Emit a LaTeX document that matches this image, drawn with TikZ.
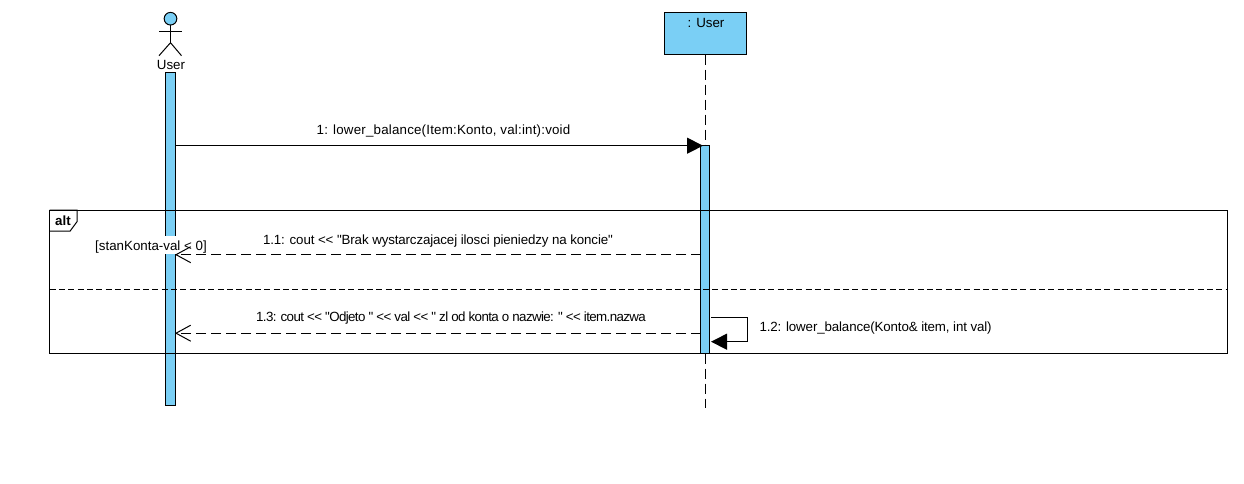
\documentclass[tikz,border=0pt]{standalone}
\usepackage{fontspec}
\newfontfamily\diagfont{Liberation Sans}
\usetikzlibrary{arrows.meta, positioning}
\definecolor{lifeblue}{HTML}{7ACFF5}

\begin{document}
\begin{tikzpicture}[
    x=0.75pt, y=-0.75pt, line width=0.75pt,
    barbox/.style={draw, fill=lifeblue, minimum width=7.5pt, inner sep=0pt, outer sep=0pt, anchor=north},
    headbox/.style={draw, fill=lifeblue, minimum width=62pt, minimum height=31.5pt, inner sep=0pt, outer sep=0pt},
    msglabel/.style={font=\diagfont\fontsize{10pt}{12pt}\selectfont, inner sep=0pt},
    lifeline/.style={dash pattern=on 7.5pt off 3.75pt},
    call/.style={-{Triangle[length=12pt, width=12pt]}},
    reply/.style={-{Straight Barb[length=11pt, width=12pt]}, dash pattern=on 7.5pt off 3.75pt}
]
\useasboundingbox (0,-0.7) rectangle (1244,483.3);

% Actor on the left
\coordinate (hip) at (170.5,42);
\node[draw, fill=lifeblue, circle, minimum size=9.5pt, inner sep=0pt, outer sep=0pt] (userhead) at (170.5,18) {};
\draw (userhead.south) -- (hip);
\draw (159,31) -- (181.5,31);
\draw (159,55) -- (hip) -- (181.5,55);
\node[msglabel] (usertext) at (171,64) {User};

% Object on the right and its lifeline
\node[headbox] (objbox) at (705.5,33) {};
\node[msglabel] (objtext) at (706,22) {: User};
\coordinate (objend) at (705,407);
\node[barbox, minimum height=249.75pt] (userbar) at (170,72) {};
\node[barbox, minimum height=156pt, minimum width=6.5pt] (objbar) at (705.3,145) {};
\draw[lifeline] (objbox.south -| objend) -- (objbar.north -| objend);
\draw[lifeline] (objbar.south -| objend) -- (objend);

% Message 1
\coordinate (m1) at (703,145);
\draw[call] (m1 -| userbar.east) ++(1,0) -- (m1);
\node[msglabel] (m1text) at (443.5,130) {\addfontfeature{LetterSpace=1.5}1: lower\_balance(Item:Konto, val:int):void};

% Alt frame
\node[draw, minimum width=883.5pt, minimum height=107.25pt, inner sep=0pt, outer sep=0pt, anchor=north west] (altframe) at (49.5,209.5) {};
\draw (altframe.north west) -- (77,209.5) -- (77,221) -- (70,230.5) -- (49.5,230.5);
\node[msglabel, font=\diagfont\fontsize{10pt}{12pt}\selectfont\bfseries] (alttext) at (63,220) {alt};
\coordinate (divider) at (49.5,289);
\draw[dash pattern=on 4.5pt off 2.5pt] (divider) -- (divider -| altframe.east);

% Guard
\node[msglabel, fill=white, text height=11.25pt, text depth=2.25pt, anchor=base] (guard) at (151,250) {[stanKonta-val < 0]};

% Replies
\coordinate (r1) at (701,254);
\draw[reply] (r1) -- (r1 -| userbar.east);
\node[msglabel] (r1text) at (438,240) {\addfontfeature{LetterSpace=-1}1.1: cout << "Brak wystarczajacej ilosci pieniedzy na koncie"};
\coordinate (r3) at (701,332.5);
\draw[reply] (r3) -- (r3 -| userbar.east);
\node[msglabel] (r3text) at (451,317) {\addfontfeature{LetterSpace=-4.6}1.3: cout << "Odjeto " << val << " zl od konta o nazwie: " << item.nazwa};

% Self call
\coordinate (s1) at (711,317);
\coordinate (s2) at (711,341);
\draw[call] (s1) -- (747.5,317) -- (747.5,341) -- (s2);
\node[msglabel, anchor=west] (s1text) at (759,327) {\addfontfeature{LetterSpace=-1}1.2: lower\_balance(Konto\& item, int val)};
\end{tikzpicture}
\end{document}
